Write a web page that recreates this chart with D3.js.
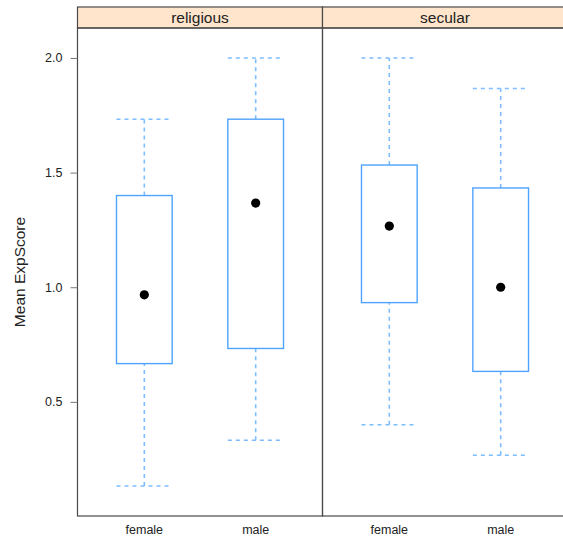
<!DOCTYPE html>
<html>
<head>
<meta charset="utf-8">
<script src="https://cdn.jsdelivr.net/npm/d3@7"></script>
<style>
  body { margin: 0; background: #fff; }
  text { font-family: "Liberation Sans", Arial, Helvetica, sans-serif; fill: #222; }
</style>
</head>
<body>
<svg id="chart"></svg>
<script>
const width = 563;
const height = 537;

// Panels (strip labels) and categories on the x axis.
const panels = ["religious", "secular"];
const categories = ["female", "male"];
// Five-number summaries, per panel, in category order.
const lowerWhisker = [[0.133, 0.333], [0.4, 0.267]];
const lowerHinge   = [[0.667, 0.733], [0.933, 0.633]];
const medians      = [[0.967, 1.367], [1.267, 1.0]];
const upperHinge   = [[1.4, 1.733], [1.533, 1.433]];
const upperWhisker = [[1.733, 2.0], [2.0, 1.867]];
const yTicks = [0.5, 1.0, 1.5, 2.0];
const yTitle = "Mean ExpScore";

const panelLeft = 77.5, panelTop = 28, panelBottom = 516, panelW = 245, stripH = 21;
const boxCol = "#4fa3ff", whiskCol = "#7dbcff", borderCol = "#4a4a4a";

const svg = d3.select("#chart")
    .attr("width", width)
    .attr("height", height);

// y domain: data range extended by 7% on each side (lattice style)
const lo = d3.min(lowerWhisker.flat()), hi = d3.max(upperWhisker.flat());
const pad = (hi - lo) * 0.07;
const y = d3.scaleLinear().domain([lo - pad, hi + pad]).range([panelBottom, panelTop]);

const x = d3.scalePoint().domain(categories).range([0, panelW]).padding(0.6);
const boxW = x.step() * 0.5;

panels.forEach((p, i) => {
    const g = svg.append("g").attr("transform", `translate(${panelLeft + i * panelW},0)`);

    // strip
    g.append("rect")
        .attr("x", 0).attr("y", panelTop - stripH)
        .attr("width", panelW).attr("height", stripH)
        .attr("fill", "#ffe5cc")
        .attr("stroke", borderCol).attr("stroke-width", 1.2);
    g.append("text")
        .attr("x", panelW / 2).attr("y", panelTop - 5.5)
        .attr("text-anchor", "middle")
        .attr("font-size", 15.5)
        .text(p);

    const b = g.selectAll("g.box")
        .data(categories)
        .join("g")
        .attr("class", "box")
        .attr("transform", d => `translate(${x(d)},0)`);

    // whiskers
    b.append("line")
        .attr("y1", (d, j) => y(upperHinge[i][j])).attr("y2", (d, j) => y(upperWhisker[i][j]))
        .attr("stroke", whiskCol).attr("stroke-width", 1.6).attr("stroke-dasharray", "4,4");
    b.append("line")
        .attr("y1", (d, j) => y(lowerWhisker[i][j])).attr("y2", (d, j) => y(lowerHinge[i][j]))
        .attr("stroke", whiskCol).attr("stroke-width", 1.6).attr("stroke-dasharray", "4,4");
    // caps
    [upperWhisker, lowerWhisker].forEach(w => {
        b.append("line")
            .attr("x1", -boxW / 2).attr("x2", boxW / 2)
            .attr("y1", (d, j) => y(w[i][j])).attr("y2", (d, j) => y(w[i][j]))
            .attr("stroke", whiskCol).attr("stroke-width", 1.6).attr("stroke-dasharray", "4,4");
    });
    // box
    b.append("rect")
        .attr("x", -boxW / 2).attr("width", boxW)
        .attr("y", (d, j) => y(upperHinge[i][j]))
        .attr("height", (d, j) => y(lowerHinge[i][j]) - y(upperHinge[i][j]))
        .attr("fill", "none").attr("stroke", boxCol).attr("stroke-width", 1.4);
    // median dot
    b.append("circle")
        .attr("cy", (d, j) => y(medians[i][j]))
        .attr("r", 4.6).attr("fill", "#000");

    // category labels
    b.append("text")
        .attr("y", 534)
        .attr("text-anchor", "middle")
        .attr("font-size", 12.5)
        .text(d => d);

    // panel border
    g.append("rect")
        .attr("x", 0).attr("y", panelTop)
        .attr("width", panelW).attr("height", panelBottom - panelTop)
        .attr("fill", "none")
        .attr("stroke", borderCol).attr("stroke-width", 1.2);
});

// y axis
const yAxis = svg.append("g")
    .attr("transform", `translate(${panelLeft},0)`)
    .call(d3.axisLeft(y).tickValues(yTicks).tickFormat(d3.format(".1f")).tickSize(7).tickPadding(8));
yAxis.select(".domain").remove();
yAxis.selectAll("line").attr("stroke", "#777");
yAxis.selectAll("text")
    .attr("font-size", 12.5)
    .attr("font-family", "Liberation Sans, Arial, sans-serif")
    .attr("fill", "#222");

svg.append("text")
    .attr("transform", `translate(25,${(panelTop + panelBottom) / 2}) rotate(-90)`)
    .attr("text-anchor", "middle")
    .attr("font-size", 15.5)
    .text(yTitle);
</script>
</body>
</html>
